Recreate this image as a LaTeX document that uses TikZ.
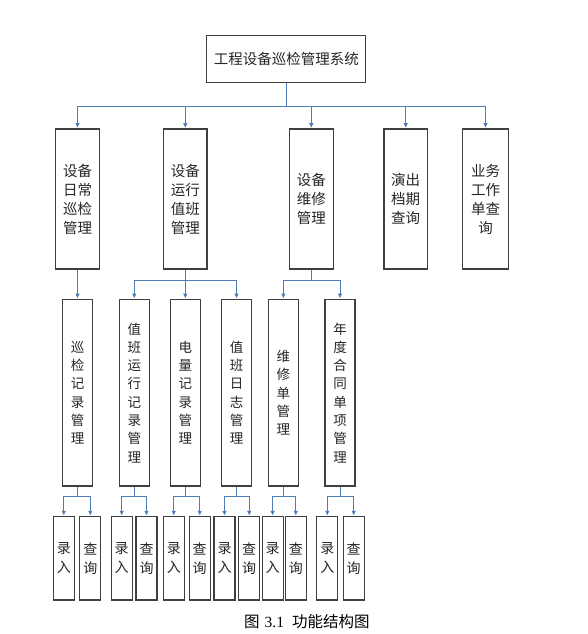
\documentclass[tikz,border=0pt]{standalone}
\usepackage{fontspec}
\setmainfont{Liberation Serif}
\newfontfamily\cjk{Noto Sans CJK SC}
\usetikzlibrary{arrows.meta}
\definecolor{boxc}{HTML}{404040}
\definecolor{connc}{HTML}{4F7CB8}
\begin{document}
\begin{tikzpicture}[x=1pt,y=-1pt,
  box/.style={draw=boxc, line width=1.2pt, inner sep=0pt, align=center, fill=white, text=black!85},
  topbox/.style={box, minimum width=159pt, minimum height=47pt, font=\cjk\fontsize{14.5}{19}\selectfont},
  lone/.style={box, minimum width=44pt, minimum height=140pt, font=\cjk\fontsize{14.5}{19}\selectfont},
  ltwo/.style={box, minimum width=30pt, minimum height=186.5pt, font=\cjk\fontsize{13.5}{18.3}\selectfont},
  lthree/.style={box, minimum width=21pt, minimum height=83.3pt, font=\cjk\fontsize{14}{19}\selectfont},
  conn/.style={draw=connc, line width=1pt},
  arr/.style={conn, -{Triangle[length=4.5pt,width=4pt]}, shorten >=0.8pt},
]
\useasboundingbox (0,0) rectangle (588,634);

% top
\node[topbox] (sys) at (286.3,59.2) {工程设备巡检管理系统};

% level 1
\node[lone] (a) at (77.5,199) {设备\\日常\\巡检\\管理};
\node[lone, minimum width=43.3pt] (b) at (185.3,199) {设备\\运行\\值班\\管理};
\node[lone] (c) at (311.3,199) {设备\\维修\\管理};
\node[lone, minimum width=43.3pt] (d) at (405.7,199) {演出\\档期\\查询};
\node[lone, minimum width=46.4pt] (e) at (485.5,199) {业务\\工作\\单查\\询};

% level 2
\node[ltwo] (a1) at (77.5,392.7) {巡\\检\\记\\录\\管\\理};
\node[ltwo] (b1) at (134.3,392.7) {值\\班\\运\\行\\记\\录\\管\\理};
\node[ltwo] (b2) at (185.3,392.7) {电\\量\\记\\录\\管\\理};
\node[ltwo] (b3) at (236.5,392.7) {值\\班\\日\\志\\管\\理};
\node[ltwo] (c1) at (283.4,392.7) {维\\修\\单\\管\\理};
\node[ltwo] (c2) at (340,392.7) {年\\度\\合\\同\\单\\项\\管\\理};

% level 3
\node[lthree] (a1r) at (63.8,558.3) {录\\入};
\node[lthree] (a1q) at (90.3,558.3) {查\\询};
\node[lthree] (b1r) at (121.7,558.3) {录\\入};
\node[lthree] (b1q) at (146.5,558.3) {查\\询};
\node[lthree] (b2r) at (173.8,558.3) {录\\入};
\node[lthree] (b2q) at (199.7,558.3) {查\\询};
\node[lthree] (b3r) at (224.5,558.3) {录\\入};
\node[lthree] (b3q) at (249.2,558.3) {查\\询};
\node[lthree] (c1r) at (272.6,558.3) {录\\入};
\node[lthree] (c1q) at (295.8,558.3) {查\\询};
\node[lthree] (c2r) at (327.3,558.3) {录\\入};
\node[lthree] (c2q) at (353.7,558.3) {查\\询};

% bus levels
\coordinate (bus0) at (0,106);
\coordinate (bus1) at (0,280.7);
\coordinate (bus2) at (0,496.7);

% top -> level 1
\foreach \n in {a,b,c,d,e}
  \draw[arr] (sys.south) |- (\n.north |- bus0) -- (\n.north);

% level 1 -> level 2
\draw[arr] (a.south) -- (a1.north);
\foreach \n in {b1,b2,b3}
  \draw[arr] (b.south) |- (\n.north |- bus1) -- (\n.north);
\foreach \n in {c1,c2}
  \draw[arr] (c.south) |- (\n.north |- bus1) -- (\n.north);

% level 2 -> level 3
\foreach \p in {a1,b1,b2,b3,c1,c2}{
  \draw[arr] (\p.south) |- (\p r.north |- bus2) -- (\p r.north);
  \draw[arr] (\p.south) |- (\p q.north |- bus2) -- (\p q.north);
}

% caption
\node[font=\fontsize{15.5}{18}\selectfont, inner sep=0pt, anchor=west] (cap) at (244,622)
  {{\cjk 图}\hspace{5pt}3.1\hspace{8pt}{\cjk 功能结构图}};
\end{tikzpicture}
\end{document}
